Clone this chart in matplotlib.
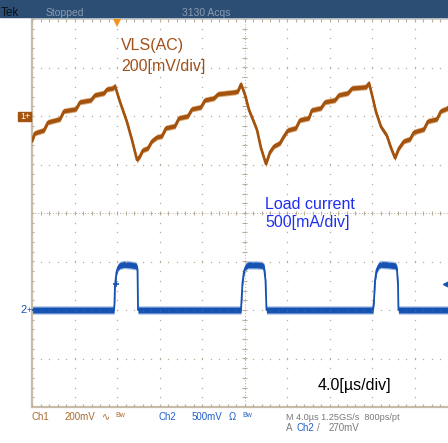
import numpy as np
import matplotlib.pyplot as plt
from matplotlib.patches import Rectangle

W, H = 448, 443

# CH1 VLS(AC): time [us] and voltage [mV] relative to ch1 ground
ch1_t = [0.0, 0.28, 1.13, 1.51, 2.64, 3.01, 4.14, 4.52, 5.55, 5.93, 6.78, 7.06, 7.62, 7.81,
         8.28, 8.94, 9.41, 9.88,
         10.16, 10.45, 10.92, 11.29, 11.76, 12.24, 12.61, 13.46, 13.84, 14.68, 15.06, 15.91,
         16.28, 17.13, 17.51, 19.11, 19.39, 19.67,
         20.05, 20.42, 20.80, 21.18, 21.55, 22.02,
         22.40, 22.78, 23.34, 23.72, 24.09, 24.85, 25.22, 26.07, 26.35, 27.20, 27.58, 28.52,
         28.89, 29.74, 30.12, 31.44, 31.72,
         32.00, 32.38, 32.85, 33.41, 33.79, 34.16,
         34.54, 35.01, 35.58, 35.95, 36.89, 37.27, 38.12, 38.49, 39.15, 39.53, 40.0]
ch1_mv = [-103, -70, -58, -25, -12, 21, 29, 58, 66, 87, 95, 111, 115, 124,
          58, -25, -99, -181,
          -165, -140, -132, -103, -87, -82, -49, -41, -8, 0, 29, 37,
          66, 74, 91, 99, 103, 132,
          87, 25, -16, -58, -132, -198,
          -148, -124, -111, -82, -58, -49, -16, -8, 25, 33, 58, 66,
          87, 95, 115, 120, 136,
          87, 16, -45, -82, -132, -173,
          -132, -103, -95, -66, -54, -21, -12, 21, 33, 62, 70]

# CH2 load current: time [us] and current [mA]
ch2_t = [0.0, 7.72, 7.76, 7.81, 7.95, 8.09, 8.28, 8.66, 9.22, 9.79, 9.93, 9.98,
         19.67, 19.72, 19.81, 19.95, 20.14, 20.33, 21.08, 21.65, 21.84, 21.98, 22.07,
         32.09, 32.19, 32.28, 32.42, 32.61, 32.80, 33.55, 34.21, 34.35, 34.45, 34.49, 40.0]
ch2_ma = [0, 0, 60, 250, 390, 440, 460, 470, 465, 455, 420, 0,
          0, 100, 280, 400, 450, 465, 465, 460, 440, 300, 0,
          0, 100, 300, 410, 455, 470, 465, 455, 420, 250, 0, 0]

ch1_scale, ch1_pos = 200.0, 2.0    # mV/div, div
ch2_scale, ch2_pos = 500.0, -2.0   # mA/div, div
trig_t, trig_level = 8.0, 270.0    # us, mV on ch2

brown = '#a3530e'
blue = '#1652b2'
gridc = '#b8ae98'
edgec = '#c6bca8'

plt.rcParams['font.family'] = ['Liberation Sans', 'DejaVu Sans']

def fx(x):  # pixel -> figure fraction
    return x / W

def fy(y):
    return 1 - y / H

fig = plt.figure(figsize=(W / 100, H / 100), dpi=100)
fig.patch.set_facecolor('white')
ax = fig.add_axes([fx(32), fy(407), 425 / W, 388 / H])
ax.set_xlim(0, 40)
ax.set_ylim(-4, 4)
ax.axis('off')

# graticule
xminor = np.arange(0, 40.01, 0.8)
yminor = np.arange(-4, 4.01, 0.2)
for gx in range(4, 40, 4):
    if gx == 20:
        continue
    ax.plot([gx] * len(yminor), yminor, ls='', marker='s', ms=0.9, mew=0, color=gridc)
for gy in [-3, -2, -1, 1, 2, 3]:
    ax.plot(xminor, [gy] * len(xminor), ls='', marker='s', ms=0.9, mew=0, color=gridc)
ax.plot([0, 40], [0, 0], ls=(0, (1, 2)), lw=0.7, color=gridc)
ax.plot([20, 20], [-4, 4], ls=(0, (1, 2)), lw=0.7, color=gridc)
ax.vlines(xminor, -0.045, 0.045, color=gridc, lw=0.8)
ax.hlines(yminor, 20 - 0.2, 20 + 0.2, color=gridc, lw=0.8)
ax.plot([0, 0], [-4, 4], color=edgec, lw=1.6, clip_on=False)
ax.plot([0, 40], [-4, -4], color=edgec, lw=1.6, clip_on=False)
ax.plot([0, 40], [4, 4], color='#c8c8c8', lw=1.2, clip_on=False)
ax.hlines(yminor, 0, 0.2, color=gridc, lw=0.8)
ax.vlines(xminor, -4, -3.94, color=gridc, lw=0.8)
ax.vlines(xminor, 3.94, 4, color=gridc, lw=0.8)

# traces
t1 = np.array(ch1_t)
y1 = ch1_pos + np.array(ch1_mv) / ch1_scale
ax.fill_between(t1, y1 - 0.06, y1 + 0.06, color='#d9a878', lw=0)
ax.fill_between(t1, y1 - 0.04, y1 + 0.04, color=brown, lw=0)
ax.plot(t1, y1, color=brown, lw=1.9)

t2 = np.array(ch2_t)
y2 = ch2_pos + np.array(ch2_ma) / ch2_scale
ax.fill_between(t2, y2 - 0.085, y2 + 0.085, color='#9ab8e4', lw=0)
ax.fill_between(t2, y2 - 0.06, y2 + 0.06, color=blue, lw=0)
ax.plot(t2, y2, color=blue, lw=1.3)

ylev = ch2_pos + trig_level / ch2_scale
ax.plot([7.9], [ylev], marker='+', ms=5, mew=1.2, color=blue)
ax.plot([39.0], [ylev], marker='<', ms=4, color=blue, clip_on=False)
ax.plot([trig_t], [3.92], marker='v', ms=6, mew=0, color='#f39419', clip_on=False)

# channel ground markers
fig.patches.append(Rectangle((fx(18), fy(121)), 13 / W, 9 / H, transform=fig.transFigure,
                             color=brown, zorder=5))
fig.text(fx(20), fy(116.5), '1', color='white', fontsize=6.5, va='center', zorder=6)
fig.text(fx(25), fy(116.5), '+', color='white', fontsize=6.5, va='center', zorder=6)
fig.text(fx(20), fy(310), '2', color=blue, fontsize=8, va='center')
fig.text(fx(27), fy(310), '+', color=blue, fontsize=6.5, va='center')

# annotations
fig.text(fx(121), fy(50), 'VLS(AC)', color='#a0501a', fontsize=11.5, zorder=10)
fig.text(fx(121), fy(71.5), '200[mV/div]', color='#a0501a', fontsize=11.5, zorder=10)
fig.text(fx(265), fy(209.5), 'Load current', color='#1f2ff0', fontsize=11.5, zorder=10)
fig.text(fx(265), fy(227), '500[mA/div]', color='#1f2ff0', fontsize=11.5, zorder=10)
fig.text(fx(318), fy(390), '4.0[\u00b5s/div]', color='black', fontsize=11.5, zorder=10)

# top status bar
fig.patches.append(Rectangle((0, fy(17)), 1, 17 / H, transform=fig.transFigure,
                             color='#2c4e74', zorder=1))
fig.text(fx(1), fy(16), 'Tek', color='#0a1018', fontsize=8.5)
fig.text(fx(46), fy(16), 'Stopped', color='#8a9ab0', fontsize=7.5)
fig.text(fx(182), fy(16), '3130 Acqs', color='#8a9ab0', fontsize=7.5)

# bottom status text
c1 = '#a86a30'
c2 = '#2060c8'
cg = '#7a7a7a'
fs = 7
fig.text(fx(32), fy(420), 'Ch1', color=c1, fontsize=fs)
fig.text(fx(65), fy(420), '200mV', color=c1, fontsize=fs)
fig.text(fx(102), fy(420), '\u223f', color=c1, fontsize=fs, family=['DejaVu Sans'])
fig.text(fx(115), fy(417), 'Bw', color=c1, fontsize=5)
fig.text(fx(158), fy(420), 'Ch2', color=c2, fontsize=fs)
fig.text(fx(192), fy(420), '500mV', color=c2, fontsize=fs)
fig.text(fx(229), fy(420), '\u03a9', color=c2, fontsize=fs)
fig.text(fx(242), fy(417), 'Bw', color=c2, fontsize=5)
fig.text(fx(286), fy(420), 'M 4.0\u00b5s 1.25GS/s  800ps/pt', color=cg, fontsize=6.6)
fig.text(fx(286), fy(431), 'A', color=cg, fontsize=fs)
fig.text(fx(296), fy(431), 'Ch2', color=c2, fontsize=fs)
fig.text(fx(317), fy(431), '/', color=cg, fontsize=fs)
fig.text(fx(329), fy(431), '270mV', color=cg, fontsize=fs)

fig.savefig('out.png', dpi=100)
